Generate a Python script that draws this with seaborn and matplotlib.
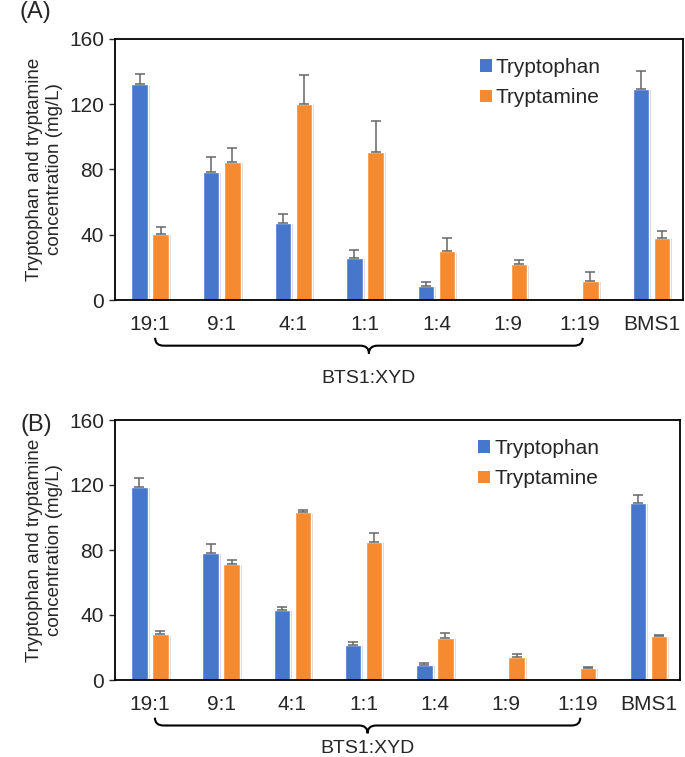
import numpy as np, pandas as pd
import matplotlib
matplotlib.use('Agg')
import matplotlib.pyplot as plt
import matplotlib.patheffects as pe
from matplotlib.path import Path as MPath
from matplotlib.patches import PathPatch
import seaborn as sns

sns.set_style('white')
plt.rcParams['font.family'] = ['Liberation Sans', 'DejaVu Sans']

# ---------- data ----------
ratios = ['19:1', '9:1', '4:1', '1:1', '1:4', '1:9', '1:19', 'BMS1']
series = ['Tryptophan', 'Tryptamine']

trp_a     = [132.2, 78.6, 47.5, 25.8, 8.8, 0, 0, 129.3]
trp_a_err = [6.1, 8.8, 5.5, 4.7, 2.5, 0, 0, 11.1]
tam_a     = [40.5, 84.9, 120.3, 90.8, 29.9, 21.9, 11.9, 38.3]
tam_a_err = [4.5, 8.0, 17.6, 19.2, 8.1, 2.9, 5.5, 4.3]

trp_b     = [119.0, 78.4, 43.1, 21.7, 9.4, 0, 0, 109.1]
trp_b_err = [5.1, 5.3, 2.0, 1.9, 0.9, 0, 0, 4.5]
tam_b     = [28.1, 71.4, 103.2, 84.9, 26.0, 14.4, 7.4, 27.1]
tam_b_err = [1.9, 2.4, 1.6, 5.8, 2.9, 1.6, 0.4, 0.3]

COLORS = {'Tryptophan': '#4677CC', 'Tryptamine': '#F58A30'}


def brace(ax, x0, x1, y_top, y_bot):
    """curly brace under the axis, x in data coords, y in axes fraction"""
    xm = (x0 + x1) / 2
    ym = (y_top + y_bot) / 2
    r = 0.12
    verts = [(x0, y_top), (x0, ym), (x0 + r, ym),
             (xm - r, ym), (xm, ym), (xm, y_bot),
             (xm, ym), (xm + r, ym),
             (x1 - r, ym), (x1, ym), (x1, y_top)]
    codes = [MPath.MOVETO, MPath.CURVE3, MPath.CURVE3,
             MPath.LINETO, MPath.CURVE3, MPath.CURVE3,
             MPath.CURVE3, MPath.CURVE3,
             MPath.LINETO, MPath.CURVE3, MPath.CURVE3]
    p = PathPatch(MPath(verts, codes), fc='none', ec='black', lw=1.5,
                  transform=ax.get_xaxis_transform(), clip_on=False)
    ax.add_patch(p)


def panel(ax, trp, trp_err, tam, tam_err, tag, tag_y, lab_y):
    df = pd.DataFrame({'ratio': ratios * 2,
                       'series': [series[0]] * len(ratios) + [series[1]] * len(ratios),
                       'value': trp + tam})
    sns.barplot(data=df, x='ratio', y='value', hue='series', order=ratios,
                hue_order=series, palette=COLORS, width=0.59, gap=0.22,
                errorbar=None, ax=ax, legend=False, saturation=1)
    errs = [trp_err, tam_err]
    conts = list(ax.containers)[:2]
    for k, cont in enumerate(conts):
        for bar, e in zip(cont, errs[k]):
            bar.set_path_effects([pe.SimplePatchShadow(offset=(1.5, -1), alpha=0.2),
                                  pe.Normal()])
            if bar.get_height() > 0:
                ax.errorbar(bar.get_x() + bar.get_width() / 2, bar.get_height(),
                            yerr=[[0], [e]], fmt='none', ecolor='#666666',
                            elinewidth=1.1, capsize=3.5, capthick=1.1)
    ax.set_ylim(0, 160)
    ax.set_yticks([0, 40, 80, 120, 160])
    ax.set_xlim(-0.49, 7.44)
    ax.set_xlabel('')
    ax.set_ylabel('Tryptophan and tryptamine\nconcentration (mg/L)', fontsize=13.5,
                  labelpad=4, linespacing=1.25)
    ax.tick_params(axis='y', left=True, length=4, width=1, labelsize=15, pad=4)
    ax.tick_params(axis='x', bottom=False, labelsize=15, pad=7)
    for s in ax.spines.values():
        s.set_color('black'); s.set_linewidth(1.3)
    handles = [plt.Rectangle((0, 0), 1, 1, fc=COLORS[s], ec='none') for s in series]
    ax.legend(handles, series, loc='upper left', bbox_to_anchor=(0.61, 1.0),
              frameon=False, fontsize=15, handlelength=0.55, handleheight=0.55,
              handletextpad=0.2, labelspacing=0.55)
    brace(ax, 0.07, 6.04, -0.145, -0.205)
    ax.text(3.05, lab_y, 'BTS1:XYD', transform=ax.get_xaxis_transform(),
            ha='center', va='center', fontsize=14)
    ax.text(-0.168, tag_y, tag, transform=ax.transAxes, fontsize=17,
            va='center', ha='left')


fig = plt.figure(figsize=(6.85, 7.57), dpi=100)
ax1 = fig.add_axes([115 / 685, 1 - 300 / 757, 568 / 685, 261 / 757])
ax2 = fig.add_axes([115 / 685, 1 - 680 / 757, 565 / 685, 260 / 757])
panel(ax1, trp_a, trp_a_err, tam_a, tam_a_err, '(A)', 1.105, -0.3)
panel(ax2, trp_b, trp_b_err, tam_b, tam_b_err, '(B)', 0.98, -0.265)
fig.savefig('out.png', dpi=100)
